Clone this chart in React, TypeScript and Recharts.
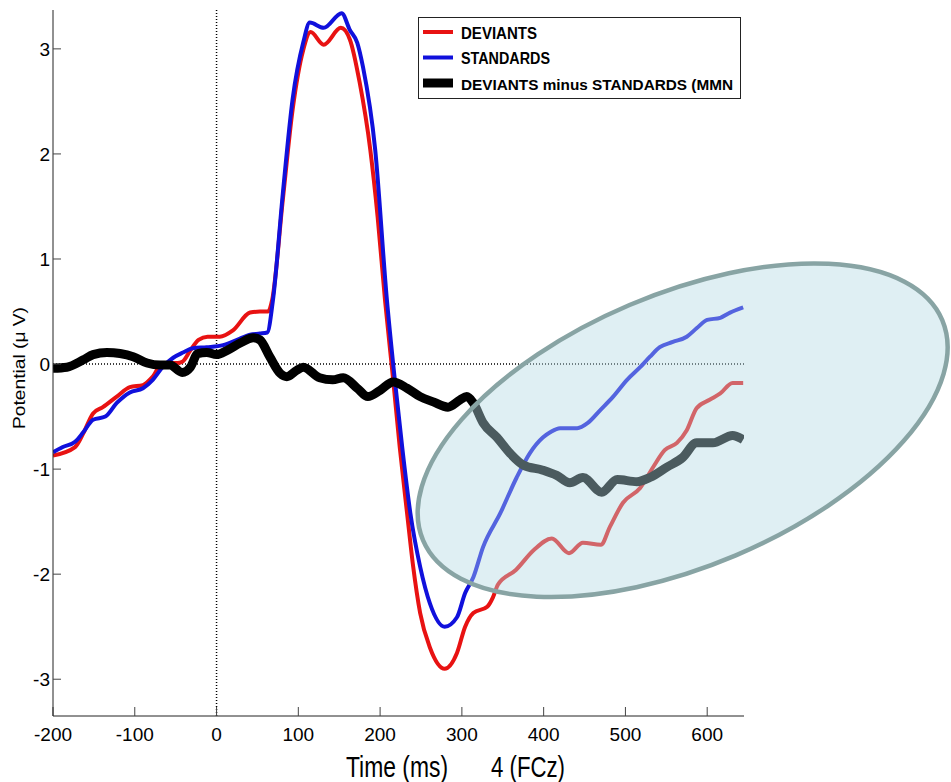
import React from 'react';
import { LineChart, Line, XAxis, YAxis, ReferenceLine, ReferenceDot } from 'recharts';

// time axis in ms, potentials in microvolts
const deviantsMs = [
  -200, -173, -163, -151, -139, -122, -106, -90, -78, -66, -48, -42, -32, -22, -11, 4, 20, 41, 53, 63,
  68, 81, 93, 106, 115, 131, 152, 163, 175, 188, 197, 206, 216, 224, 233, 240, 249, 261, 279, 294,
  304, 314, 331, 338, 344, 366, 388, 410, 431, 448, 470, 481, 497, 518, 534, 548, 563, 575, 587, 603,
  616, 631, 644,
];
const deviantsUv = [
  -0.87, -0.79, -0.66, -0.47, -0.41, -0.31, -0.22, -0.2, -0.12, 0.01, 0.01, 0.02, 0.13, 0.23, 0.26, 0.26, 0.32, 0.49, 0.5, 0.5,
  0.61, 1.56, 2.42, 2.99, 3.16, 3.04, 3.2, 3.09, 2.68, 2.04, 1.4, 0.61, -0.15, -0.79, -1.42, -1.9, -2.37, -2.7, -2.9, -2.75,
  -2.5, -2.37, -2.31, -2.22, -2.1, -1.96, -1.77, -1.66, -1.8, -1.7, -1.72, -1.55, -1.32, -1.18, -0.98, -0.82, -0.75, -0.63, -0.42, -0.34,
  -0.28, -0.18, -0.18,
];

const standardsMs = [
  -200, -188, -173, -163, -151, -136, -122, -106, -90, -78, -66, -53, -41, -29, -12, 8, 25, 41, 53, 62,
  69, 81, 93, 106, 114, 131, 153, 163, 172, 179, 194, 208, 218, 227, 237, 249, 261, 279, 294, 304,
  314, 326, 347, 367, 383, 399, 408, 420, 441, 454, 469, 485, 502, 518, 530, 542, 558, 575, 587, 600,
  616, 628, 644,
];
const standardsUv = [
  -0.84, -0.79, -0.74, -0.65, -0.53, -0.5, -0.37, -0.27, -0.23, -0.15, -0.03, 0.06, 0.11, 0.15, 0.16, 0.18, 0.23, 0.28, 0.29, 0.3,
  0.61, 1.62, 2.52, 3.06, 3.25, 3.2, 3.34, 3.18, 3.06, 2.83, 2.04, 0.64, -0.15, -0.79, -1.42, -1.93, -2.28, -2.5, -2.41, -2.18,
  -2.03, -1.74, -1.42, -1.08, -0.85, -0.7, -0.65, -0.61, -0.61, -0.56, -0.44, -0.31, -0.15, -0.03, 0.07, 0.16, 0.21, 0.26, 0.34, 0.42,
  0.44, 0.49, 0.54,
];

const mmnMs = [
  -200, -183, -163, -151, -134, -118, -102, -85, -69, -57, -42, -32, -23, -12, 0, 13, 29, 45, 53, 65,
  78, 86, 98, 106, 126, 142, 155, 172, 185, 200, 216, 233, 249, 265, 283, 298, 306, 314, 326, 343,
  359, 375, 399, 416, 432, 448, 471, 490, 514, 530, 551, 570, 587, 607, 631, 644,
];
const mmnUv = [
  -0.04, -0.03, 0.04, 0.09, 0.11, 0.1, 0.07, 0.01, -0.01, -0.01, -0.08, -0.03, 0.1, 0.11, 0.09, 0.13, 0.2, 0.25, 0.23, 0.07,
  -0.09, -0.12, -0.06, -0.03, -0.13, -0.15, -0.13, -0.23, -0.31, -0.25, -0.17, -0.23, -0.31, -0.36, -0.41, -0.34, -0.31, -0.37, -0.56, -0.7,
  -0.85, -0.96, -1.01, -1.06, -1.13, -1.08, -1.22, -1.1, -1.12, -1.08, -0.98, -0.89, -0.75, -0.75, -0.68, -0.72,
];

const xTicks = [-200, -100, 0, 100, 200, 300, 400, 500, 600];
const yTicks = [-3, -2, -1, 0, 1, 2, 3];

// highlighted region (centre of the ellipse, in data units)
const highlightMs = 570;
const highlightUv = -0.63;

const RED = '#e81212';
const BLUE = '#1010dc';
const FONT = '"Liberation Sans", Arial, sans-serif';

const toPoints = (ms: number[], uv: number[]) => ms.map((t, i) => ({ ms: t, uv: uv[i] }));

const deviants = toPoints(deviantsMs, deviantsUv);
const standards = toPoints(standardsMs, standardsUv);
const mmn = toPoints(mmnMs, mmnUv);

const HighlightEllipse = (props: any) => {
  const { cx, cy } = props;
  return (
    <ellipse
      cx={cx}
      cy={cy}
      rx={282}
      ry={136}
      transform={`rotate(-23 ${cx} ${cy})`}
      fill="rgb(178,218,226)"
      fillOpacity={0.42}
      stroke="#88a4a4"
      strokeWidth={4.5}
    />
  );
};

const XTitle = () => (
  <g fontFamily={FONT} fill="#000">
    <text x={346} y={777} fontSize={29} textLength={102} lengthAdjust="spacingAndGlyphs">
      Time (ms)
    </text>
    <text x={491} y={777} fontSize={29} textLength={74} lengthAdjust="spacingAndGlyphs">
      4 (FCz)
    </text>
  </g>
);

const YTitle = () => (
  <text
    x={25}
    y={368}
    transform="rotate(-90 25 368)"
    textAnchor="middle"
    fontSize={17}
    fontFamily={FONT}
    textLength={122}
    lengthAdjust="spacingAndGlyphs"
    fill="#000"
  >
    Potential (μ V)
  </text>
);

// the original legend box cuts the last label short; keep the visible part
const legendItems = [
  { label: 'DEVIANTS', color: RED, width: 4, length: 76, size: 16.5 },
  { label: 'STANDARDS', color: BLUE, width: 4, length: 89, size: 16.5 },
  { label: 'DEVIANTS minus STANDARDS (MMN', color: '#000', width: 9, length: 272, size: 15.5 },
];

const LegendBox = () => (
  <div
    style={{
      position: 'absolute',
      left: 418,
      top: 17,
      width: 323,
      height: 82,
      boxSizing: 'border-box',
      border: '1px solid #222',
      background: '#fff',
    }}
  >
    <svg width={321} height={80}>
      {legendItems.map((item, i) => (
        <g key={item.label}>
          <line x1={4} x2={34} y1={14 + i * 25.5} y2={14 + i * 25.5} stroke={item.color} strokeWidth={item.width} />
          <text
            x={42}
            y={20.5 + i * 25.5}
            fontSize={item.size}
            fontWeight="bold"
            fontFamily={FONT}
            fill="#000"
            textLength={item.length}
            lengthAdjust="spacingAndGlyphs"
          >
            {item.label}
          </text>
        </g>
      ))}
    </svg>
  </div>
);

export default function App() {
  return (
    <div style={{ position: 'absolute', left: 0, top: 0, width: 951, height: 782, background: '#fff' }}>
      <LineChart width={951} height={782} margin={{ top: 10, right: 207, left: 0, bottom: 36 }}>
        <XAxis
          type="number"
          dataKey="ms"
          domain={[-200, 645]}
          ticks={xTicks}
          interval={0}
          allowDataOverflow
          height={30}
          tickSize={-9}
          tickMargin={21}
          axisLine={{ stroke: '#222' }}
          tickLine={{ stroke: '#444' }}
          tick={{ fill: '#000', fontSize: 19, fontFamily: FONT }}
          label={<XTitle />}
        />
        <YAxis
          type="number"
          dataKey="uv"
          domain={[-3.35, 3.37]}
          ticks={yTicks}
          interval={0}
          allowDataOverflow
          width={53}
          tickSize={-8}
          tickMargin={11}
          axisLine={{ stroke: '#222' }}
          tickLine={{ stroke: '#444' }}
          tick={{ fill: '#000', fontSize: 19, fontFamily: FONT }}
          label={<YTitle />}
        />
        <ReferenceLine x={0} stroke="#000" strokeWidth={1.5} strokeDasharray="1 2" />
        <ReferenceLine y={0} stroke="#000" strokeWidth={1.5} strokeDasharray="1 2" />
        <Line
          data={deviants}
          dataKey="uv"
          type="monotone"
          stroke={RED}
          strokeWidth={4}
          dot={false}
          activeDot={false}
          isAnimationActive={false}
        />
        <Line
          data={standards}
          dataKey="uv"
          type="monotone"
          stroke={BLUE}
          strokeWidth={4}
          dot={false}
          activeDot={false}
          isAnimationActive={false}
        />
        <Line
          data={mmn}
          dataKey="uv"
          type="monotone"
          stroke="#000"
          strokeWidth={9}
          dot={false}
          activeDot={false}
          isAnimationActive={false}
        />
        <ReferenceDot
          x={highlightMs}
          y={highlightUv}
          ifOverflow="visible"
          zIndex={1500}
          shape={<HighlightEllipse />}
        />
      </LineChart>
      <LegendBox />
    </div>
  );
}
